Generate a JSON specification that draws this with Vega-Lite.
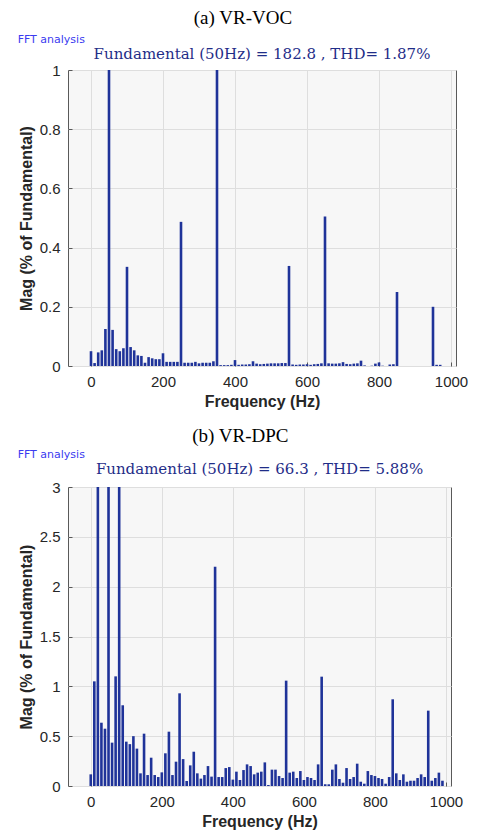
{
  "$schema": "https://vega.github.io/schema/vega-lite/v6.json",
  "background": "white",
  "padding": {"left": 17, "top": 8, "right": 0, "bottom": 0},
  "spacing": 16,
  "datasets": {
    "voc": [
      {"f": 0, "mag": 0.05}, {"f": 10, "mag": 0.01}, {"f": 20, "mag": 0.046}, {"f": 30, "mag": 0.053},
      {"f": 40, "mag": 0.125}, {"f": 50, "mag": 100}, {"f": 60, "mag": 0.122}, {"f": 70, "mag": 0.057},
      {"f": 80, "mag": 0.05}, {"f": 90, "mag": 0.06}, {"f": 100, "mag": 0.335}, {"f": 110, "mag": 0.064},
      {"f": 120, "mag": 0.053}, {"f": 130, "mag": 0.036}, {"f": 140, "mag": 0.034}, {"f": 150, "mag": 0.011},
      {"f": 160, "mag": 0.03}, {"f": 170, "mag": 0.026}, {"f": 180, "mag": 0.023}, {"f": 190, "mag": 0.023},
      {"f": 200, "mag": 0.043}, {"f": 210, "mag": 0.014}, {"f": 220, "mag": 0.014}, {"f": 230, "mag": 0.014},
      {"f": 240, "mag": 0.014}, {"f": 250, "mag": 0.487}, {"f": 260, "mag": 0.011}, {"f": 270, "mag": 0.011},
      {"f": 280, "mag": 0.011}, {"f": 290, "mag": 0.014}, {"f": 300, "mag": 0.009}, {"f": 310, "mag": 0.011},
      {"f": 320, "mag": 0.011}, {"f": 330, "mag": 0.011}, {"f": 340, "mag": 0.016}, {"f": 350, "mag": 1.3},
      {"f": 360, "mag": 0.003}, {"f": 370, "mag": 0.003}, {"f": 380, "mag": 0.003}, {"f": 390, "mag": 0.004},
      {"f": 400, "mag": 0.02}, {"f": 410, "mag": 0.004}, {"f": 420, "mag": 0.005}, {"f": 430, "mag": 0.005},
      {"f": 440, "mag": 0.006}, {"f": 450, "mag": 0.016}, {"f": 460, "mag": 0.008}, {"f": 470, "mag": 0.006},
      {"f": 480, "mag": 0.007}, {"f": 490, "mag": 0.008}, {"f": 500, "mag": 0.009}, {"f": 510, "mag": 0.009},
      {"f": 520, "mag": 0.009}, {"f": 530, "mag": 0.01}, {"f": 540, "mag": 0.01}, {"f": 550, "mag": 0.338},
      {"f": 560, "mag": 0.005}, {"f": 570, "mag": 0.004}, {"f": 580, "mag": 0.005}, {"f": 590, "mag": 0.005},
      {"f": 600, "mag": 0.006}, {"f": 610, "mag": 0.004}, {"f": 620, "mag": 0.006}, {"f": 630, "mag": 0.007},
      {"f": 640, "mag": 0.009}, {"f": 650, "mag": 0.505}, {"f": 660, "mag": 0.009}, {"f": 670, "mag": 0.008},
      {"f": 680, "mag": 0.008}, {"f": 690, "mag": 0.009}, {"f": 700, "mag": 0.013}, {"f": 710, "mag": 0.007},
      {"f": 720, "mag": 0.006}, {"f": 730, "mag": 0.008}, {"f": 740, "mag": 0.009}, {"f": 750, "mag": 0.018},
      {"f": 760, "mag": 0.002}, {"f": 780, "mag": 0.001}, {"f": 790, "mag": 0.008}, {"f": 800, "mag": 0.012},
      {"f": 810, "mag": 0.001}, {"f": 830, "mag": 0.005}, {"f": 840, "mag": 0.006}, {"f": 850, "mag": 0.25},
      {"f": 950, "mag": 0.2}, {"f": 960, "mag": 0.004}, {"f": 970, "mag": 0.004}
    ],
    "dpc": [
      {"f": 0, "mag": 0.117}, {"f": 10, "mag": 1.05}, {"f": 20, "mag": 3.5}, {"f": 30, "mag": 0.635},
      {"f": 40, "mag": 0.575}, {"f": 50, "mag": 100}, {"f": 60, "mag": 0.435}, {"f": 70, "mag": 1.1},
      {"f": 80, "mag": 3.5}, {"f": 90, "mag": 0.81}, {"f": 100, "mag": 0.445}, {"f": 110, "mag": 0.42},
      {"f": 120, "mag": 0.5}, {"f": 130, "mag": 0.375}, {"f": 140, "mag": 0.127}, {"f": 150, "mag": 0.525},
      {"f": 160, "mag": 0.11}, {"f": 170, "mag": 0.284}, {"f": 180, "mag": 0.11}, {"f": 190, "mag": 0.09},
      {"f": 200, "mag": 0.137}, {"f": 210, "mag": 0.328}, {"f": 220, "mag": 0.545}, {"f": 230, "mag": 0.11},
      {"f": 240, "mag": 0.244}, {"f": 250, "mag": 0.93}, {"f": 260, "mag": 0.27}, {"f": 270, "mag": 0.05},
      {"f": 280, "mag": 0.207}, {"f": 290, "mag": 0.344}, {"f": 300, "mag": 0.127}, {"f": 310, "mag": 0.074},
      {"f": 320, "mag": 0.11}, {"f": 330, "mag": 0.2}, {"f": 340, "mag": 0.094}, {"f": 350, "mag": 2.2},
      {"f": 360, "mag": 0.09}, {"f": 370, "mag": 0.09}, {"f": 380, "mag": 0.18}, {"f": 390, "mag": 0.19},
      {"f": 400, "mag": 0.064}, {"f": 410, "mag": 0.144}, {"f": 420, "mag": 0.06}, {"f": 430, "mag": 0.16},
      {"f": 440, "mag": 0.217}, {"f": 450, "mag": 0.2}, {"f": 460, "mag": 0.117}, {"f": 470, "mag": 0.134},
      {"f": 480, "mag": 0.144}, {"f": 490, "mag": 0.237}, {"f": 500, "mag": 0.01}, {"f": 510, "mag": 0.164},
      {"f": 520, "mag": 0.164}, {"f": 530, "mag": 0.1}, {"f": 540, "mag": 0.08}, {"f": 550, "mag": 1.057},
      {"f": 560, "mag": 0.134}, {"f": 570, "mag": 0.144}, {"f": 580, "mag": 0.08}, {"f": 590, "mag": 0.15},
      {"f": 600, "mag": 0.06}, {"f": 610, "mag": 0.09}, {"f": 620, "mag": 0.08}, {"f": 630, "mag": 0.06},
      {"f": 640, "mag": 0.217}, {"f": 650, "mag": 1.097}, {"f": 660, "mag": 0.017}, {"f": 670, "mag": 0.017},
      {"f": 680, "mag": 0.164}, {"f": 690, "mag": 0.217}, {"f": 700, "mag": 0.07}, {"f": 710, "mag": 0.033},
      {"f": 720, "mag": 0.18}, {"f": 730, "mag": 0.07}, {"f": 740, "mag": 0.09}, {"f": 750, "mag": 0.224},
      {"f": 760, "mag": 0.043}, {"f": 770, "mag": 0.023}, {"f": 780, "mag": 0.15}, {"f": 790, "mag": 0.11},
      {"f": 800, "mag": 0.1}, {"f": 810, "mag": 0.08}, {"f": 820, "mag": 0.07}, {"f": 830, "mag": 0.023},
      {"f": 840, "mag": 0.09}, {"f": 850, "mag": 0.87}, {"f": 860, "mag": 0.127}, {"f": 870, "mag": 0.06},
      {"f": 880, "mag": 0.117}, {"f": 890, "mag": 0.043}, {"f": 900, "mag": 0.053}, {"f": 910, "mag": 0.053},
      {"f": 920, "mag": 0.08}, {"f": 930, "mag": 0.117}, {"f": 940, "mag": 0.09}, {"f": 950, "mag": 0.756},
      {"f": 960, "mag": 0.053}, {"f": 970, "mag": 0.08}, {"f": 980, "mag": 0.134}, {"f": 990, "mag": 0.053}
    ]
  },
  "vconcat": [
    {
      "title": {"text": "(a) VR-VOC", "font": "Liberation Serif", "fontSize": 19, "fontWeight": "normal", "color": "#000000", "anchor": "middle", "frame": "bounds", "offset": 6},
      "vconcat": [
        {
          "title": {"text": "FFT analysis", "font": "DejaVu Sans", "fontSize": 11, "fontWeight": "normal", "color": "#3b3bf0", "anchor": "start", "frame": "bounds", "offset": 2},
          "vconcat": [
            {
              "width": 388,
              "height": 296,
              "title": {"text": "Fundamental (50Hz) = 182.8 , THD= 1.87%", "font": "DejaVu Serif", "fontSize": 15, "fontWeight": "normal", "color": "#1f2d88", "anchor": "middle", "frame": "group", "offset": 1},
              "data": {"name": "voc"},
              "mark": {"type": "bar", "width": 2.6, "color": "#1f3399", "clip": true},
              "encoding": {
                "x": {"field": "f", "type": "quantitative", "title": "Frequency (Hz)",
                      "scale": {"domain": [-50, 1000], "nice": false},
                      "axis": {"values": [0, 200, 400, 600, 800, 1000], "format": "d"}},
                "y": {"field": "mag", "type": "quantitative", "title": "Mag (% of Fundamental)",
                      "scale": {"domain": [0, 1], "nice": false, "zero": true},
                      "axis": {"values": [0, 0.2, 0.4, 0.6, 0.8, 1], "format": "~g"}}
              }
            }
          ]
        }
      ]
    },
    {
      "title": {"text": "(b) VR-DPC", "font": "Liberation Serif", "fontSize": 19, "fontWeight": "normal", "color": "#000000", "anchor": "middle", "frame": "bounds", "offset": 3},
      "vconcat": [
        {
          "title": {"text": "FFT analysis", "font": "DejaVu Sans", "fontSize": 11, "fontWeight": "normal", "color": "#3b3bf0", "anchor": "start", "frame": "bounds", "offset": 2},
          "vconcat": [
            {
              "width": 383,
              "height": 299,
              "title": {"text": "Fundamental (50Hz) = 66.3 , THD= 5.88%", "font": "DejaVu Serif", "fontSize": 15, "fontWeight": "normal", "color": "#1f2d88", "anchor": "middle", "frame": "group", "offset": 3},
              "data": {"name": "dpc"},
              "mark": {"type": "bar", "width": 2.6, "color": "#1f3399", "clip": true},
              "encoding": {
                "x": {"field": "f", "type": "quantitative", "title": "Frequency (Hz)",
                      "scale": {"domain": [-50, 1000], "nice": false},
                      "axis": {"values": [0, 200, 400, 600, 800, 1000], "format": "d"}},
                "y": {"field": "mag", "type": "quantitative", "title": "Mag (% of Fundamental)",
                      "scale": {"domain": [0, 3], "nice": false, "zero": true},
                      "axis": {"values": [0, 0.5, 1, 1.5, 2, 2.5, 3], "format": "~g"}}
              }
            }
          ]
        }
      ]
    }
  ],
  "config": {
    "view": {"fill": "#f7f7f7", "stroke": "#595959", "strokeWidth": 1},
    "axis": {
      "labelFont": "Liberation Sans", "labelFontSize": 15, "labelColor": "#262626", "labelPadding": 12,
      "titleFont": "Liberation Sans", "titleFontSize": 16, "titleFontWeight": "bold", "titleColor": "#262626",
      "grid": true, "gridColor": "#dedede", "gridWidth": 1, "domain": false,
      "ticks": true, "tickSize": -4, "tickColor": "#595959", "tickWidth": 1
    },
    "axisY": {"titlePadding": 5},
    "axisX": {"titlePadding": 4}
  }
}
